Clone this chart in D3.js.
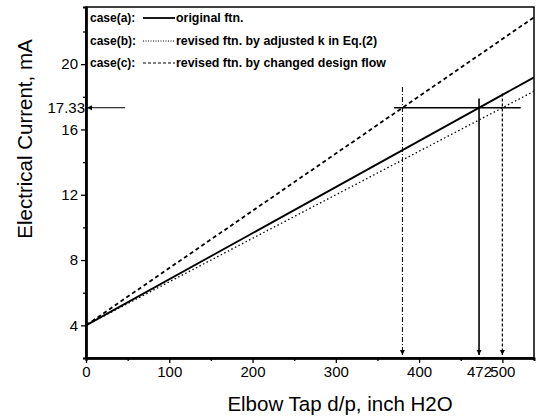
<!DOCTYPE html>
<html>
<head>
<meta charset="utf-8">
<script src="https://cdn.jsdelivr.net/npm/d3@7"></script>
<style>
  body { margin: 0; background: #fff; }
  text { font-family: "Liberation Sans", Arial, sans-serif; fill: #000; }
</style>
</head>
<body>
<div id="chart"></div>
<script>
(function () {
	var width = 538;
	var height = 420;

	// data
	var cases = ["case(a):", "case(b):", "case(c):"];
	var caseLabels = ["original ftn.", "revised ftn. by adjusted k in Eq.(2)", "revised ftn. by changed design flow"];
	var caseX = [0, 538];
	var caseA = [4, 19.19];
	var caseB = [4, 18.34];
	var caseC = [4, 22.87];
	var markValue = 17.33;
	var markX = [380, 472, 500];
	var markTop = [18.6, 17.9, 18.2];
	var xTicks = [0, 100, 200, 300, 400, 500];
	var xMinor = [50, 150, 250, 350, 450];
	var yTicks = [4, 8, 12, 16, 20];
	var yMinor = [2, 6, 10, 14, 18, 22];

	var margin = {left: 86, right: 4, top: 7, bottom: 62};

	var svg = d3.select("#chart")
	   .append("svg")
	   .attr("width", width)
	   .attr("height", height);

	var x = d3.scaleLinear().domain([0, 538]).range([margin.left, width - margin.right]);
	var y = d3.scaleLinear().domain([2, 23.5]).range([height - margin.bottom, margin.top]);

	var defs = svg.append("defs");
	defs.append("marker")
	  .attr("id", "arrow")
	  .attr("viewBox", "0 0 10 10")
	  .attr("refX", 10).attr("refY", 5)
	  .attr("markerWidth", 5).attr("markerHeight", 7)
	  .attr("markerUnits", "userSpaceOnUse")
	  .attr("orient", "auto")
	  .append("path")
	  .attr("d", "M0,0 L10,5 L0,10 z")
	  .attr("fill", "#000");

	// frame
	svg.append("rect")
	  .attr("x", x(0)).attr("y", y(23.5))
	  .attr("width", x(538) - x(0)).attr("height", y(2) - y(23.5))
	  .attr("fill", "none").attr("stroke", "#000").attr("stroke-width", 1.5);

	// axes
	svg.append("g")
	  .attr("transform", "translate(0," + y(2) + ")")
	  .call(d3.axisBottom(x).tickValues(xTicks).tickSize(5).tickSizeOuter(0));
	svg.append("g")
	  .attr("transform", "translate(0," + y(2) + ")")
	  .call(d3.axisBottom(x).tickValues(xMinor).tickSize(3).tickFormat(""));
	svg.append("g")
	  .attr("transform", "translate(0," + y(2) + ")")
	  .call(d3.axisBottom(x).tickValues([472]).tickSize(0).tickPadding(8));
	svg.append("g")
	  .attr("transform", "translate(" + x(0) + ",0)")
	  .call(d3.axisLeft(y).tickValues(yTicks).tickSize(5).tickSizeOuter(0));
	svg.append("g")
	  .attr("transform", "translate(" + x(0) + ",0)")
	  .call(d3.axisLeft(y).tickValues(yMinor).tickSize(3).tickFormat(""));
	svg.append("g")
	  .attr("transform", "translate(" + x(0) + ",0)")
	  .call(d3.axisLeft(y).tickValues([markValue]).tickSize(0).tickPadding(1).tickFormat(d3.format(".2f")));

	svg.selectAll(".domain").attr("stroke-width", 2);
	svg.selectAll(".tick line").attr("stroke-width", 1.3);
	svg.selectAll(".tick text")
	  .style("font-family", "Liberation Sans, Arial, sans-serif")
	  .attr("font-size", 15);

	// lines
	var line = d3.line()
	  .x(function (d, i) { return x(caseX[i]); })
	  .y(function (d) { return y(d); });

	svg.append("path").datum(caseA).attr("d", line)
	  .attr("fill", "none").attr("stroke", "#000").attr("stroke-width", 1.8);
	svg.append("path").datum(caseB).attr("d", line)
	  .attr("fill", "none").attr("stroke", "#000").attr("stroke-width", 1.3)
	  .attr("stroke-dasharray", "1.5,2.5");
	svg.append("path").datum(caseC).attr("d", line)
	  .attr("fill", "none").attr("stroke", "#000").attr("stroke-width", 1.8)
	  .attr("stroke-dasharray", "4,3");

	// 17.33 mark
	svg.append("line")
	  .attr("x1", x(370)).attr("x2", x(522))
	  .attr("y1", y(markValue)).attr("y2", y(markValue))
	  .attr("stroke", "#000").attr("stroke-width", 1.5);
	svg.append("line")
	  .attr("x1", x(47)).attr("x2", x(0) + 1)
	  .attr("y1", y(markValue)).attr("y2", y(markValue))
	  .attr("stroke", "#000").attr("stroke-width", 1)
	  .attr("marker-end", "url(#arrow)");

	var dashes = ["5,2,1,2", null, "3,2"];
	var widths = [1, 1.6, 1.2];
	svg.selectAll(".drop")
	  .data(markX)
	  .enter().append("line")
	  .attr("class", "drop")
	  .attr("x1", function (d) { return x(d); })
	  .attr("x2", function (d) { return x(d); })
	  .attr("y1", function (d, i) { return y(markTop[i]); })
	  .attr("y2", y(2) - 3)
	  .attr("stroke", "#000")
	  .attr("stroke-width", function (d, i) { return widths[i]; })
	  .attr("stroke-dasharray", function (d, i) { return dashes[i]; })
	  .attr("marker-end", "url(#arrow)");

	// legend
	var legend = svg.append("g").attr("transform", "translate(90,0)");
	var rows = [22, 45, 67];
	var styles = [null, "1,1.5", "3,2"];
	cases.forEach(function (c, i) {
	  legend.append("text")
	    .attr("x", 0).attr("y", rows[i])
	    .attr("font-size", 12).attr("font-weight", "bold")
	    .text(c);
	  legend.append("line")
	    .attr("x1", 53).attr("x2", 85)
	    .attr("y1", rows[i] - 4).attr("y2", rows[i] - 4)
	    .attr("stroke", "#000")
	    .attr("stroke-width", i == 0 ? 1.8 : 1)
	    .attr("stroke-dasharray", styles[i]);
	  legend.append("text")
	    .attr("x", 86).attr("y", rows[i])
	    .attr("font-size", 12.4).attr("font-weight", "bold")
	    .text(caseLabels[i]);
	});

	// titles
	svg.append("text")
	  .attr("x", 340).attr("y", 411)
	  .attr("text-anchor", "middle")
	  .attr("font-size", 20.5)
	  .text("Elbow Tap d/p, inch H2O");
	svg.append("text")
	  .attr("transform", "translate(32,139) rotate(-90)")
	  .attr("text-anchor", "middle")
	  .attr("font-size", 20.5)
	  .text("Electrical Current, mA");
})();
</script>
</body>
</html>
